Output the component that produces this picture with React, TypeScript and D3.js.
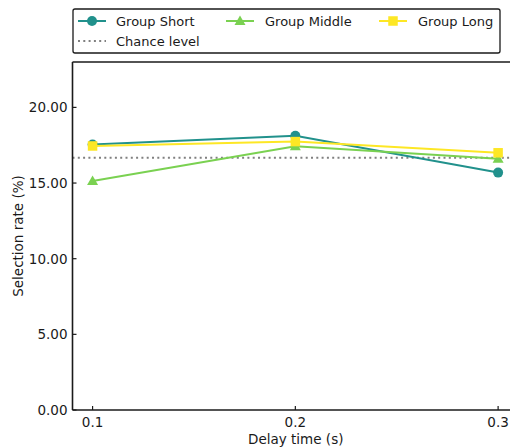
import { useEffect, useRef } from "react";
import * as d3 from "d3";

const delays = [0.1, 0.2, 0.3];
const groupNames = ["Group Short", "Group Middle", "Group Long"];
const groupColors = ["#21918c", "#7ad151", "#fde725"];
const groupMarkers = ["circle", "triangle", "square"];
const shortRates = [17.55, 18.13, 15.69];
const middleRates = [15.14, 17.43, 16.61];
const longRates = [17.45, 17.74, 17.0];
const chanceLevel = 100 / 6;
const yTicks = [0, 5, 10, 15, 20];

export default function App() {
  const ref = useRef<SVGSVGElement>(null);

  useEffect(() => {
    const width = 510;
    const height = 448;
    const svg = d3.select(ref.current);
    svg.selectAll("*").remove();

    const left = 72.5, right = 519, top = 62, bottom = 410;
    const font = "DejaVu Sans, sans-serif";
    const ink = "#1a1a1a";

    const x = d3.scaleLinear().domain([0.0901, 0.3103]).range([left, right]);
    const y = d3.scaleLinear().domain([0, 23]).range([bottom, top]);

    svg.append("rect").attr("width", width).attr("height", height).attr("fill", "white");

    // chance level
    svg.append("line")
      .attr("x1", left).attr("x2", width)
      .attr("y1", y(chanceLevel)).attr("y2", y(chanceLevel))
      .attr("stroke", "#808080").attr("stroke-width", 2)
      .attr("stroke-dasharray", "2,3.3");

    const series = [shortRates, middleRates, longRates];
    const line = d3.line<number>().x((_, i) => x(delays[i])).y(d => y(d));

    const drawMarker = (g: any, kind: string, cx: number, cy: number, color: string) => {
      if (kind === "circle") {
        g.append("circle").attr("cx", cx).attr("cy", cy).attr("r", 5).attr("fill", color);
      } else if (kind === "triangle") {
        g.append("path")
          .attr("d", `M${cx},${cy - 5.5}L${cx + 5.5},${cy + 4}L${cx - 5.5},${cy + 4}Z`)
          .attr("fill", color);
      } else {
        g.append("rect").attr("x", cx - 4.75).attr("y", cy - 4.75)
          .attr("width", 9.5).attr("height", 9.5).attr("fill", color);
      }
    };

    series.forEach((vals, s) => {
      const g = svg.append("g");
      g.append("path").attr("d", line(vals)).attr("fill", "none")
        .attr("stroke", groupColors[s]).attr("stroke-width", 2);
      vals.forEach((v, i) => drawMarker(g, groupMarkers[s], x(delays[i]), y(v), groupColors[s]));
    });

    // axes spines
    const spine = (x1: number, y1: number, x2: number, y2: number) =>
      svg.append("line").attr("x1", x1).attr("x2", x2).attr("y1", y1).attr("y2", y2)
        .attr("stroke", ink).attr("stroke-width", 1.6);
    spine(left, top, left, bottom);
    spine(left, bottom, right, bottom);
    spine(left, top, right, top);

    // y ticks
    yTicks.forEach(t => {
      svg.append("line").attr("x1", left).attr("x2", left + 4).attr("y1", y(t)).attr("y2", y(t))
        .attr("stroke", ink).attr("stroke-width", 1.2);
      svg.append("text").attr("x", left - 5).attr("y", y(t)).attr("dy", "0.36em")
        .attr("text-anchor", "end").attr("font-family", font).attr("font-size", 13.5)
        .attr("fill", ink).text(d3.format(".2f")(t));
    });

    // x ticks
    delays.forEach(t => {
      svg.append("line").attr("x1", x(t)).attr("x2", x(t)).attr("y1", bottom).attr("y2", bottom - 4)
        .attr("stroke", ink).attr("stroke-width", 1.2);
      svg.append("text").attr("x", x(t)).attr("y", bottom + 17)
        .attr("text-anchor", "middle").attr("font-family", font).attr("font-size", 13.5)
        .attr("fill", ink).text(String(t));
    });

    svg.append("text").attr("x", (left + right) / 2).attr("y", 444)
      .attr("text-anchor", "middle").attr("font-family", font).attr("font-size", 13.5)
      .attr("fill", ink).text("Delay time (s)");

    svg.append("text")
      .attr("transform", `translate(23,${(top + bottom) / 2}) rotate(-90)`)
      .attr("text-anchor", "middle").attr("font-family", font).attr("font-size", 13.5)
      .attr("fill", ink).text("Selection rate (%)");

    // legend
    const lg = svg.append("g");
    lg.append("rect").attr("x", 73).attr("y", 9).attr("width", 427).attr("height", 44)
      .attr("rx", 2).attr("fill", "white").attr("stroke", ink).attr("stroke-width", 1.3);
    const handleX = [78, 226, 379];
    const textX = [116, 265, 418];
    groupNames.forEach((name, i) => {
      const cy = 21;
      lg.append("line").attr("x1", handleX[i]).attr("x2", handleX[i] + 28)
        .attr("y1", cy).attr("y2", cy).attr("stroke", groupColors[i]).attr("stroke-width", 2);
      drawMarker(lg, groupMarkers[i], handleX[i] + 14, cy, groupColors[i]);
      lg.append("text").attr("x", textX[i]).attr("y", cy).attr("dy", "0.35em")
        .attr("font-family", font).attr("font-size", 13).attr("fill", ink).text(name);
    });
    lg.append("line").attr("x1", 78).attr("x2", 106).attr("y1", 41).attr("y2", 41)
      .attr("stroke", "#808080").attr("stroke-width", 2).attr("stroke-dasharray", "2,3.3");
    lg.append("text").attr("x", 116).attr("y", 41).attr("dy", "0.35em")
      .attr("font-family", font).attr("font-size", 13).attr("fill", ink).text("Chance level");
  }, []);

  return (
    <svg ref={ref} width={510} height={448}
      style={{ position: "absolute", left: 0, top: 0, display: "block" }} />
  );
}
